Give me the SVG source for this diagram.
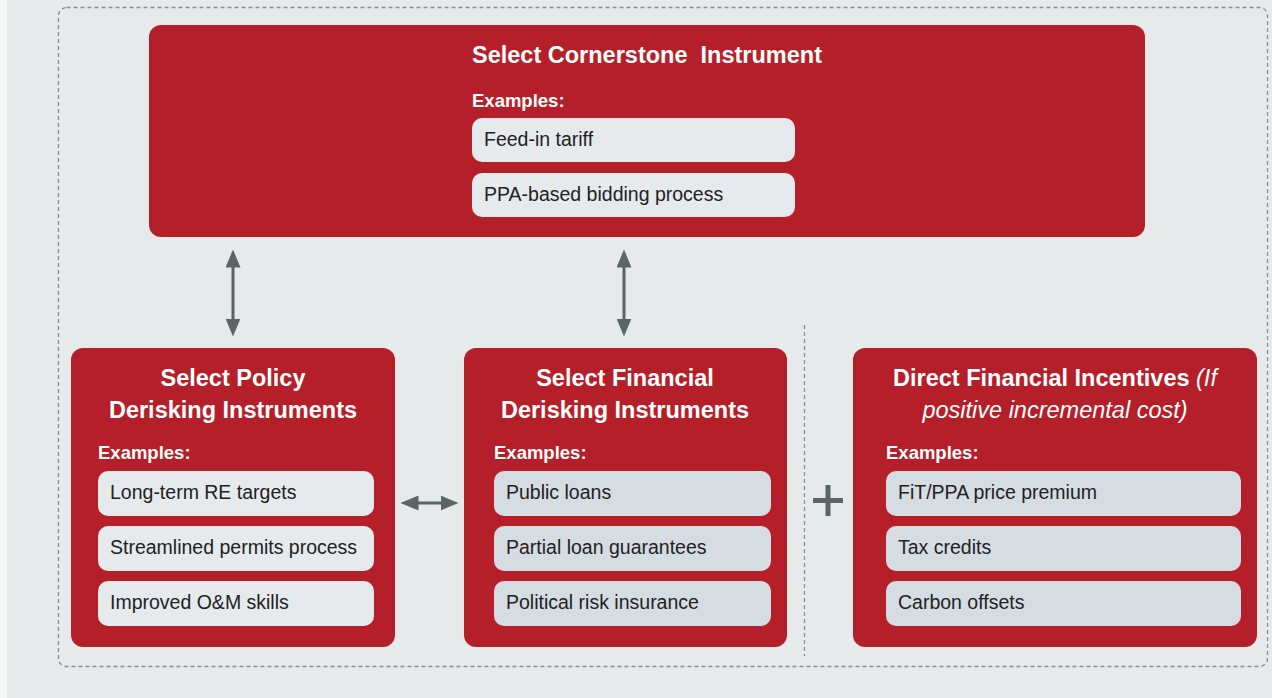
<svg xmlns="http://www.w3.org/2000/svg" width="1272" height="698" viewBox="0 0 1272 698">
<style>
.box{fill:#b51f29}
.pl{fill:#e6eaec}
.pb{fill:#d5dce2}
.ttl{font-family:"Liberation Sans",Arial,sans-serif;font-weight:bold;font-size:23.5px;fill:#fff;text-anchor:middle}
.iti{font-weight:normal;font-style:italic}
.ex{font-family:"Liberation Sans",Arial,sans-serif;font-weight:bold;font-size:18.5px;fill:#fff}
.it{font-family:"Liberation Sans",Arial,sans-serif;font-size:19.5px;fill:#222}
.conn{stroke:#5a6662;stroke-width:3;fill:none}
</style>
<defs>
<marker id="ah" viewBox="0 0 12 10" refX="1" refY="5" markerWidth="6" markerHeight="5" orient="auto-start-reverse" markerUnits="strokeWidth">
<path d="M0,0 L12,5 L0,10 z" fill="#5a6662"/>
</marker>
</defs>
<rect x="0" y="0" width="1272" height="698" fill="#e6eaeb"/>
<rect x="0" y="0" width="7" height="698" fill="#f4f6f6"/>
<rect x="58.5" y="7.5" width="1209" height="659" rx="8" fill="none" stroke="#8a8d8e" stroke-width="1.3" stroke-dasharray="4,3"/>
<line x1="804.5" y1="325" x2="804.5" y2="656" stroke="#8a8d8e" stroke-width="1.3" stroke-dasharray="4,3"/>

<g id="cornerstone">
<rect class="box" x="149" y="25" width="996" height="212" rx="12"/>
<text class="ttl" x="647" y="63" xml:space="preserve">Select Cornerstone  Instrument</text>
<text class="ex" x="472" y="107">Examples:</text>
<rect class="pl" x="472" y="118" width="323" height="44" rx="10"/>
<text class="it" x="484" y="146">Feed-in tariff</text>
<rect class="pl" x="472" y="173" width="323" height="44" rx="10"/>
<text class="it" x="484" y="201">PPA-based bidding process</text>
</g>

<g id="policy">
<rect class="box" x="71" y="348" width="324" height="299" rx="12"/>
<text class="ttl" x="233" y="386">Select Policy</text>
<text class="ttl" x="233" y="418">Derisking Instruments</text>
<text class="ex" x="98" y="459">Examples:</text>
<rect class="pl" x="98" y="471" width="276" height="45" rx="10"/>
<text class="it" x="110" y="499">Long-term RE targets</text>
<rect class="pl" x="98" y="526" width="276" height="45" rx="10"/>
<text class="it" x="110" y="554">Streamlined permits process</text>
<rect class="pl" x="98" y="581" width="276" height="45" rx="10"/>
<text class="it" x="110" y="609">Improved O&amp;M skills</text>
</g>

<g id="financial">
<rect class="box" x="464" y="348" width="323" height="299" rx="12"/>
<text class="ttl" x="625" y="386">Select Financial</text>
<text class="ttl" x="625" y="418">Derisking Instruments</text>
<text class="ex" x="494" y="459">Examples:</text>
<rect class="pb" x="494" y="471" width="277" height="45" rx="10"/>
<text class="it" x="506" y="499">Public loans</text>
<rect class="pb" x="494" y="526" width="277" height="45" rx="10"/>
<text class="it" x="506" y="554">Partial loan guarantees</text>
<rect class="pb" x="494" y="581" width="277" height="45" rx="10"/>
<text class="it" x="506" y="609">Political risk insurance</text>
</g>

<g id="direct">
<rect class="box" x="853" y="348" width="404" height="299" rx="12"/>
<text class="ttl" x="1055" y="386">Direct Financial Incentives <tspan class="iti">(If</tspan></text>
<text class="ttl iti" x="1055" y="418">positive incremental cost)</text>
<text class="ex" x="886" y="459">Examples:</text>
<rect class="pb" x="886" y="471" width="355" height="45" rx="10"/>
<text class="it" x="898" y="499">FiT/PPA price premium</text>
<rect class="pb" x="886" y="526" width="355" height="45" rx="10"/>
<text class="it" x="898" y="554">Tax credits</text>
<rect class="pb" x="886" y="581" width="355" height="45" rx="10"/>
<text class="it" x="898" y="609">Carbon offsets</text>
</g>

<g id="connectors">
<line class="conn" x1="233" y1="266" x2="233" y2="320" marker-start="url(#ah)" marker-end="url(#ah)"/>
<line class="conn" x1="624" y1="266" x2="624" y2="320" marker-start="url(#ah)" marker-end="url(#ah)"/>
<line class="conn" x1="417" y1="503" x2="442" y2="503" marker-start="url(#ah)" marker-end="url(#ah)"/>
</g>

<g id="plus">
<rect x="813" y="498" width="30" height="5" fill="#5a6662"/>
<rect x="825.5" y="485" width="5" height="31" fill="#5a6662"/>
</g>
</svg>
